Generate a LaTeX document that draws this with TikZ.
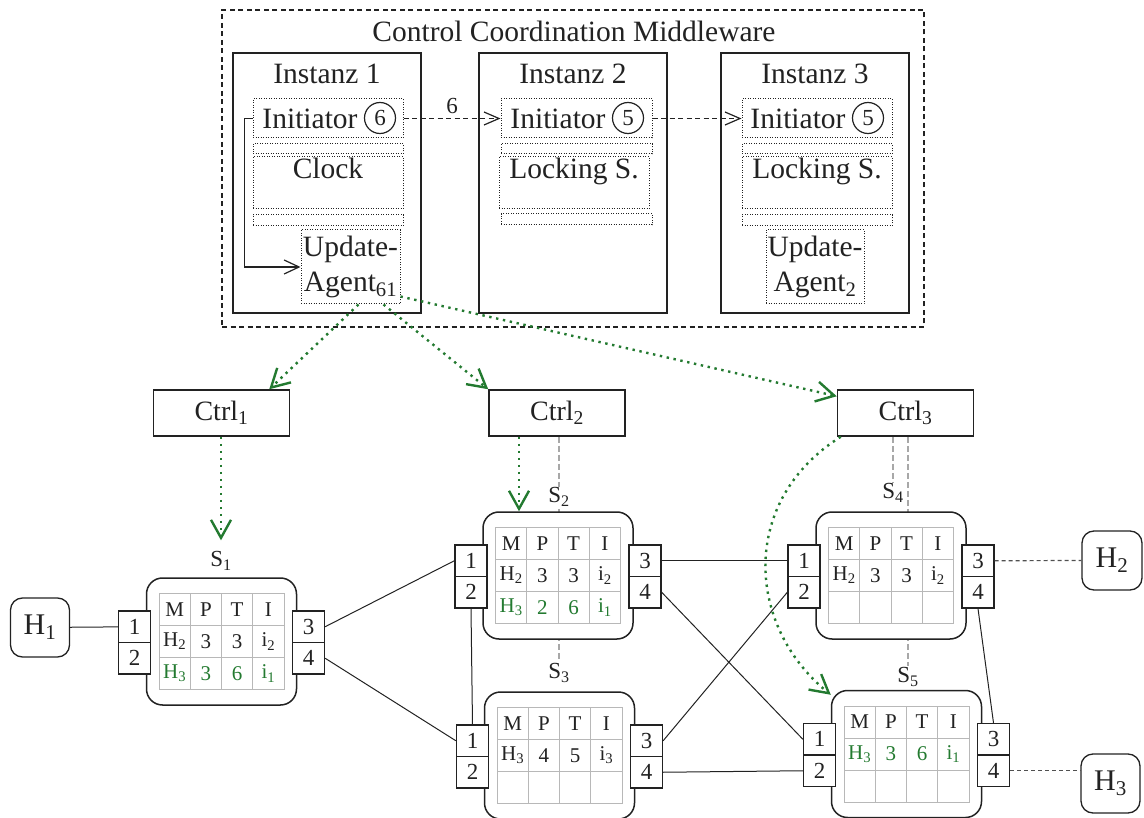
\documentclass[tikz,border=0pt]{standalone}
\usepackage{fontspec}
\setmainfont{Liberation Serif}
\usetikzlibrary{arrows.meta,matrix,calc,backgrounds}

\definecolor{ink}{HTML}{222222}
\definecolor{grn}{RGB}{35,122,48}
\definecolor{ctlgray}{HTML}{A8A8A8}
\definecolor{gridgray}{HTML}{B8B8B8}
\definecolor{hostdash}{HTML}{505050}

\newcommand\txtmain{\fontsize{29.5}{35}\selectfont}
\newcommand\txtnum{\fontsize{23}{27}\selectfont}
\newcommand\txtctrl{\fontsize{28}{32}\selectfont}
\newcommand\txthost{\fontsize{30}{34}\selectfont}
\newcommand\txtport{\fontsize{23}{26}\selectfont}
\newcommand\txttab{\fontsize{21}{24}\selectfont}
\newcommand\txtlab{\fontsize{23}{27}\selectfont}
\newcommand\lowidx[1]{\textsubscript{#1}}
\newcommand\fresh[1]{\textcolor{grn}{#1}}

% switch: rounded body, forwarding table, four ports
% #1 name, #2 centre, #3 second table row, #4 third table row
\newcommand\netswitch[4]{%
  \node[swbox] (#1) at (#2) {};
  \matrix[fwdtab] (#1t) at (#1) {M \& P \& T \& I \\ #3 \\ #4 \\};
  \node[port] (#1p1) at ($(#1)+(-87,-14.75)$) {1};
  \node[port] (#1p2) at ($(#1)+(-87,16.75)$) {2};
  \node[port] (#1p3) at ($(#1)+(87,-14.75)$) {3};
  \node[port] (#1p4) at ($(#1)+(87,16.75)$) {4};
}

\begin{document}
\begin{tikzpicture}[x=1pt,y=-1pt,color=ink,
  mwbox/.style={draw, line width=1.4pt, dash pattern=on 5pt off 3.5pt, inner sep=0pt},
  inst/.style={draw, line width=1.8pt, minimum width=188pt, minimum height=260pt, inner sep=0pt},
  part/.style={draw, line width=1pt, dash pattern=on 1pt off 1.5pt, inner sep=0pt},
  seqno/.style={circle, draw, line width=1.2pt, minimum size=31pt, inner sep=0pt, font=\txtnum},
  msg/.style={draw, line width=1.2pt, dash pattern=on 5pt off 3.5pt, -{Straight Barb[length=15pt,width=13pt]}},
  selfarrow/.style={draw, line width=1.2pt, -{Straight Barb[length=15pt,width=14pt]}},
  upd/.style={draw=grn, line width=2.4pt, dash pattern=on 2.4pt off 4.6pt, -{Straight Barb[length=18pt,width=20pt]}},
  ctrlbox/.style={draw, line width=1.5pt, minimum width=136pt, minimum height=46pt, inner sep=0pt, font=\txtctrl},
  hostbox/.style={draw, line width=1.3pt, rounded corners=12pt, minimum width=59pt, minimum height=59pt, inner sep=0pt, font=\txthost},
  swbox/.style={draw, line width=1.5pt, fill=white, rounded corners=16pt, minimum width=150pt, minimum height=127pt},
  port/.style={draw, line width=1.3pt, fill=white, minimum width=32pt, minimum height=31.5pt, inner sep=0pt, font=\txtport},
  fwdtab/.style={matrix of nodes, ampersand replacement=\&, nodes in empty cells, inner sep=0pt,
    column sep=-1pt, row sep=-1pt,
    nodes={draw=gridgray, line width=1pt, anchor=center, minimum width=31.25pt, minimum height=32pt, inner sep=0pt, font=\txttab, text=ink}},
  swlabel/.style={font=\txtlab, inner sep=1pt, fill=white},
  wire/.style={draw, line width=1pt},
  hline/.style={draw=hostdash, line width=1.2pt, dash pattern=on 4pt off 3pt},
  ctl/.style={draw=ctlgray, line width=1.5pt, dash pattern=on 6pt off 3pt}]

\useasboundingbox (0,0) rectangle (1144,818);

% ---- middleware with its three instances ----
\node[mwbox, minimum width=702pt, minimum height=317pt] (ccm) at (573,168.5) {};
\node[font=\txtmain] (ccmt) at (574,31) {Control Coordination Middleware};

\node[inst] (i1) at (327,183) {};
\node[inst] (i2) at (573,183) {};
\node[inst] (i3) at (815,183) {};
\node[font=\txtmain] (i1t) at (327,73.5) {Instanz 1};
\node[font=\txtmain] (i2t) at (573,73.5) {Instanz 2};
\node[font=\txtmain] (i3t) at (815,73.5) {Instanz 3};

% instance 1
\node[part, minimum width=150pt, minimum height=39pt] (ini1) at (328,118.5) {};
\node[font=\txtmain] (ini1t) at (310,119) {Initiator};
\node[seqno] (ini1n) at (380,118) {6};
\node[part, minimum width=150pt, minimum height=10pt] (t1a) at (328,149) {};
\node[part, minimum width=150pt, minimum height=52pt] (clk1) at (328,183) {};
\node[font=\txtmain, anchor=north, inner sep=1pt] (clk1t) at (clk1.north) {Clock};
\node[part, minimum width=150pt, minimum height=11pt] (t1b) at (328,220.5) {};
\node[part, minimum width=99pt, minimum height=74pt, align=center, font=\txtmain] (upd1) at (350.5,267) {Update-\\Agent\lowidx{61}};

% instance 2
\node[part, minimum width=151pt, minimum height=39pt] (ini2) at (576.5,118.5) {};
\node[font=\txtmain] (ini2t) at (558,119) {Initiator};
\node[seqno] (ini2n) at (628,118) {5};
\node[part, minimum width=151pt, minimum height=10pt] (t2a) at (576.5,149) {};
\node[part, minimum width=150pt, minimum height=52pt] (lock2) at (574,183) {};
\node[font=\txtmain, anchor=north, inner sep=1pt] (lock2t) at (lock2.north) {Locking S.};
\node[part, minimum width=151pt, minimum height=11pt] (t2b) at (576.5,219.5) {};

% instance 3
\node[part, minimum width=150pt, minimum height=39pt] (ini3) at (817,118.5) {};
\node[font=\txtmain] (ini3t) at (798,119) {Initiator};
\node[seqno] (ini3n) at (868,118) {5};
\node[part, minimum width=150pt, minimum height=10pt] (t3a) at (817,149) {};
\node[part, minimum width=150pt, minimum height=52pt] (lock3) at (817,183) {};
\node[font=\txtmain, anchor=north, inner sep=1pt] (lock3t) at (lock3.north) {Locking S.};
\node[part, minimum width=150pt, minimum height=11pt] (t3b) at (817,220.5) {};
\node[part, minimum width=98pt, minimum height=74pt, align=center, font=\txtmain] (upd3) at (815,267) {Update-\\Agent\lowidx{2}};

% messages between instances
\draw[msg] (ini1.east) -- node[above=4pt, font=\txtnum, inner sep=0pt] (m6) {6} (ini2.west);
\draw[msg] (ini2.east) -- (ini3.west);
\draw[selfarrow] (ini1.west) -- ++(-8,0) |- (upd1.west);

% ---- controllers ----
\node[ctrlbox] (c1) at (221.5,413) {Ctrl\lowidx{1}};
\node[ctrlbox] (c2) at (557,413) {Ctrl\lowidx{2}};
\node[ctrlbox] (c3) at (905.5,413) {Ctrl\lowidx{3}};

% ---- hosts ----
\node[hostbox] (h1) at (40,627.5) {H\lowidx{1}};
\node[hostbox, minimum width=60pt] (h2) at (1112,560.5) {H\lowidx{2}};
\node[hostbox] (h3) at (1110.5,783.5) {H\lowidx{3}};

% ---- switches ----
\netswitch{s1}{221.5,641.5}{H\lowidx{2} \& 3 \& 3 \& i\lowidx{2}}{\fresh{H\lowidx{3}} \& \fresh{3} \& \fresh{6} \& \fresh{i\lowidx{1}}}
\netswitch{s2}{558,575.5}{H\lowidx{2} \& 3 \& 3 \& i\lowidx{2}}{\fresh{H\lowidx{3}} \& \fresh{2} \& \fresh{6} \& \fresh{i\lowidx{1}}}
\netswitch{s3}{559.5,755.5}{H\lowidx{3} \& 4 \& 5 \& i\lowidx{3}}{\& \& \&}
\netswitch{s4}{891,575.5}{H\lowidx{2} \& 3 \& 3 \& i\lowidx{2}}{\& \& \&}
\netswitch{s5}{906.5,754}{\fresh{H\lowidx{3}} \& \fresh{3} \& \fresh{6} \& \fresh{i\lowidx{1}}}{\& \& \&}

\node[swlabel] (s1l) at (221,561) {S\lowidx{1}};
\node[swlabel] (s2l) at (559,497) {S\lowidx{2}};
\node[swlabel] (s3l) at (559,673) {S\lowidx{3}};
\node[swlabel] (s4l) at (893,493) {S\lowidx{4}};
\node[swlabel] (s5l) at (908,677) {S\lowidx{5}};

% controller-to-switch associations, behind the switches
\begin{scope}[on background layer]
  \draw[ctl] (s2l.north |- c2.south) -- (s2l.north);
  \draw[ctl] (s3l.north |- c2.south) -- (s3l.north);
  \draw[ctl] (s4l.north |- c3.south) -- (s4l.north);
  \draw[ctl] (s5l.north |- c3.south) -- (s5l.north);
\end{scope}

% ---- links ----
\draw[wire] (h1) -- (s1p1);
\draw[wire] (s1p3.east) -- (s2p1.west);
\draw[wire] (s1p4.east) -- (s3p1.west);
\draw[wire] (s2p2.south) -- (s3p1.north);
\draw[wire] (s2p3.east) -- (s4p1.west);
\draw[wire] (s2p4.east) -- (s5p1.west);
\draw[wire] (s3p3.east) -- (s4p2.west);
\draw[wire] (s3p4.east) -- (s5p2.west);
\draw[wire] (s4p4.south) -- (s5p3.north);
\draw[hline] (s4p3.east) -- (h2.west);
\draw[hline] (s5p4.east) -- (s5p4.east -| h3.west);

% ---- rule updates ----
\draw[upd] ($(upd1.south)+(8,0)$) -- ($(c1.north east)+(-21,0)$);
\draw[upd] ($(upd1.south)+(33,0)$) -- (c2.north west);
\draw[upd] ($(upd1.south east)+(0,-8)$) -- ($(c3.north west)+(0,7)$);
\draw[upd, shorten >=10pt] (s1l.north |- c1.south) -- (s1l.north);
\coordinate (g2) at ($(c2.south)+(-38,0)$);
\draw[upd] (g2) -- (g2 |- s2.north);
\draw[upd] ($(c3.south west)+(4,0)$) .. controls (740,500) and (745,625) .. ($(s5.north west)+(0,5)$);

\end{tikzpicture}
\end{document}
